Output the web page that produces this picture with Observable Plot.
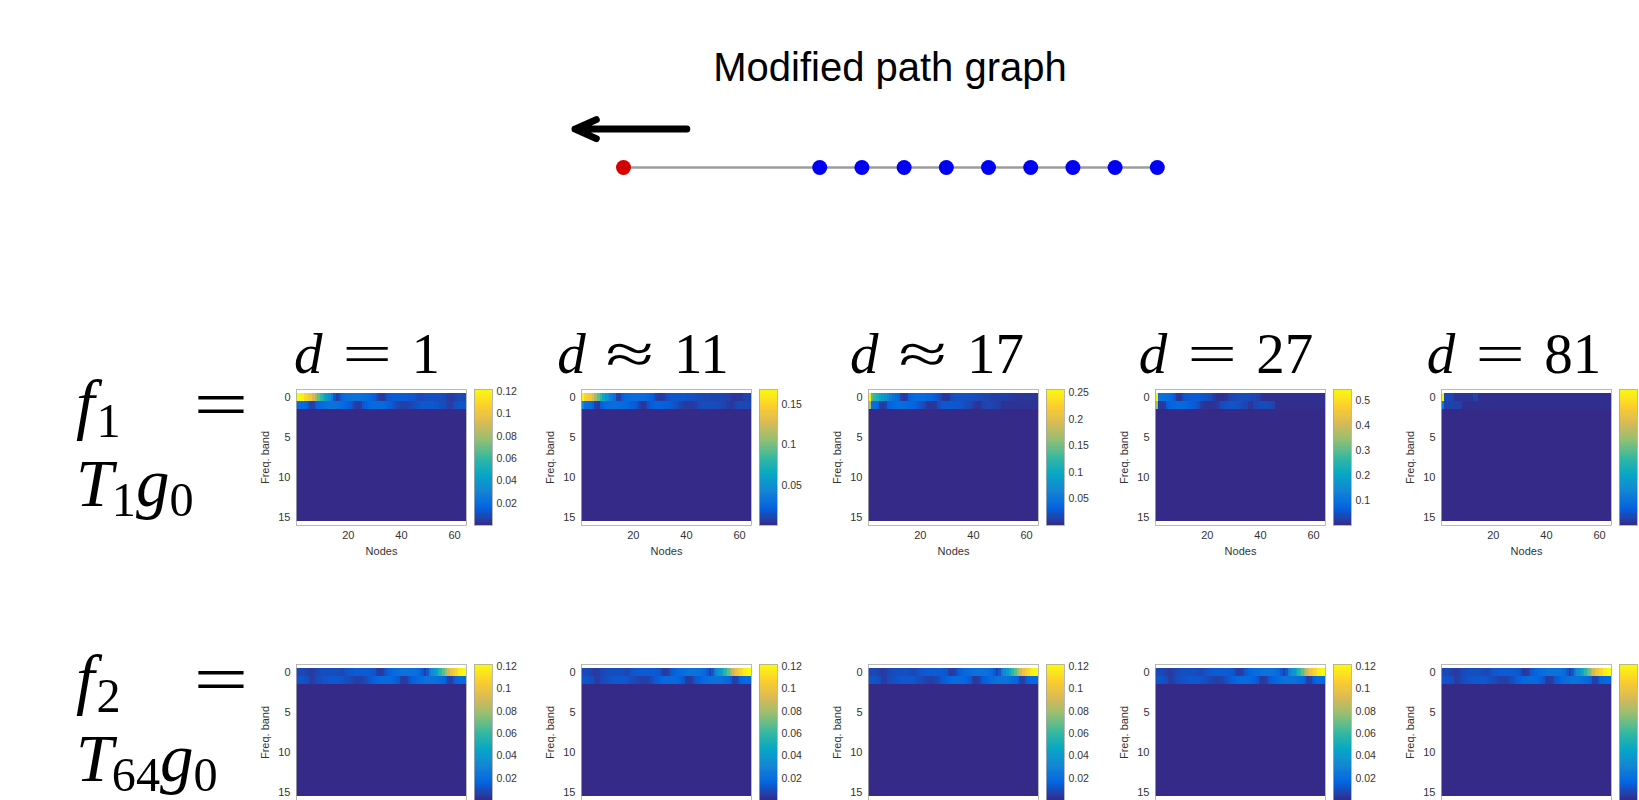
<!DOCTYPE html>
<html>
<head>
<meta charset="utf-8">
<script src="https://cdn.jsdelivr.net/npm/d3@7"></script>
<script src="https://cdn.jsdelivr.net/npm/@observablehq/plot@0.6"></script>
<style>
  html, body { margin: 0; padding: 0; background: #fff; }
  #fig { position: relative; width: 1639px; height: 800px; overflow: hidden; background: #fff; }
  .abs { position: absolute; }
  .tex { font-family: "Liberation Serif", "Times New Roman", serif; color: #000; white-space: nowrap; line-height: 1; }
  .op { display: inline-block; transform: scaleX(1.55); }
  .title { font-family: "Liberation Sans", Arial, sans-serif; font-size: 40px; line-height: 1; color: #000; text-align: center; white-space: nowrap; }
</style>
</head>
<body>
<div id="fig"></div>
<script>
// ---------------- data ----------------
const nodeIds = d3.range(1, 65);     // graph nodes 1..64
const bandIds = d3.range(0, 16);     // frequency bands 0..15
const quietLevel = 0;                // bands 2..15 read as ~0 everywhere

// f1 = T1 g0, d = 1
const f1d1Band0 = [.122,.12,.118, .11,.105,.10,.09, .078,.068,.058, .048,.04,.033,.026, .012,.006, .012,
  .018,.02,.021,.022,.022,.022,.022,.021,.02,.019,.018,.016,.013,.01, .005,.004,.006,
  .011,.012,.013,.013,.013,.013,.013,.013,.012,.012,.011,.01, .008,.008,
  .009,.01,.01,.01,.01,.01,.009,.008,.007, .005,.004,.005, .007,.008,.008,.008];
const f1d1Band1 = [.018,.019,.018,.016,.012, .006,.006,
  .014,.017,.019,.02,.021,.022,.022,.022,.021,.02,.019,.017,.015,.013,.01, .005,.004,.005,
  .012,.015,.017,.018,.019,.019,.019,.018,.017,.015,.013,.011,.009, .007,.006,.006,.006,.007,.008,.009,
  .01,.011,.012,.012,.012,.012,.012,.011,.011,.01,.009,.008, .005,.005, .009,.01,.011,.011,.011];
// d ≈ 11
const f1d11Band0 = [.165, .15,.145,.14,.13, .11,.095,.08, .065,.055,.045, .035,.028, .01,.008,
  .02,.024,.026,.027,.028,.028,.028,.027,.026,.025,.023,.02,.016, .008,.006,.006,.008,
  .014,.015,.016,.016,.016,.016,.016,.015,.015,.014,.014,.013,.012,.012,.011,.011,
  .01,.01,.01,.01,.01,.01,.009,.008,.007, .005,.004,.004,.005, .008,.009,.009];
const f1d11Band1 = [.045, .03,.028,.026,.022, .008,.006,
  .018,.022,.025,.027,.028,.028,.028,.027,.026,.025,.024,.022,.02,.017,.013, .006,.005,.006,
  .015,.018,.02,.021,.021,.021,.02,.019,.018,.016,.014,.012,.01, .007,.006,.006,.006,.007,.008,
  .011,.012,.013,.013,.013,.013,.012,.012,.011,.01,.009, .006,.005,.006, .01,.011,.011,.011,.011,.01];
// d ≈ 17
const f1d17Band0 = [.25, .14,.12,.11, .095,.085,.075,.065,.055, .045,.04,.035, .012,.008,.01,
  .03,.035,.038,.04,.04,.04,.039,.037,.035,.032,.028,.022,.016, .008,.006,.008,
  .018,.02,.022,.022,.022,.022,.022,.021,.02,.019,.018,.017,.016,.015,.014,
  .012,.012,.012,.012,.011,.011,.01,.009,.008, .006,.006,.006,.006,.006,.006,.006,.006,.006];
const f1d17Band1 = [.17, .045,.04,.035, .01,.008,.012,
  .03,.035,.038,.04,.041,.041,.04,.039,.037,.035,.032,.028,.024,.02,.015, .008,.006,.006,.008,
  .018,.022,.025,.026,.027,.027,.026,.025,.024,.022,.02,.018,.015,.012, .006,.005,.006,
  .014,.015,.015,.015,.014,.012,.01,
  .005,.005,.005,.005,.005,.005,.005,.005,.005,.005,.005,.005,.005,.005];
// d = 27
const f1d27Band0 = [.53, .1,.1,.095,.09,.085,.07,.05, .015,.012,
  .04,.05,.055,.058,.06,.06,.058,.055,.05,.045,.04,.035, .015,.01,.008,.008,.012,.02,
  .03,.035,.038,.04,.04,.04,.04,.038,.035,.032,.028,.022,
  .006,.006,.006,.006,.006,.006,.006,.006,.006,.006,.006,.006,
  .006,.006,.006,.006,.006,.006,.006,.006,.006,.006,.006,.006];
const f1d27Band1 = [.35, .02,.015,.02,
  .06,.07,.075,.078,.08,.08,.078,.075,.07,.065,.06,.05,.04, .02,.012,.01,.01,.01,.012,.015,
  .035,.04,.045,.048,.05,.05,.048,.045,.04,.035,.03, .015,.012,
  .03,.035,.038,.04,.04,.038,.035,.03,
  .005,.005,.005,.005,.005,.005,.005,.005,.005,.005,.005,.005,.005,.005,.005,.005,.005,.005,.005];
// d = 81
const f1d81Band0 = [.88, .06,.06,.055,.05, .02,.02,.02,.02,.02,.02,.02, .045,.045,
  .01,.01,.01,.01,.01,.01,.01,.01,.01,.01,.01,.01,.01,.01,.01,.01,.01,.01,.01,.01,.01,.01,.01,.01,.01,
  .01,.01,.01,.01,.01,.01,.01,.01,.01,.01,.01,.01,.01,.01,.01,.01,.01,.01,.01,.01,.01,.01,.01,.01,.01];
const f1d81Band1 = [.18, .04,.045,.045,.045,.045,.04,.04,
  .01,.01,.01,.01,.01,.01,.01,.01,.01,.01,.01,.01,.01,.01,.01,.01,.01,.01,.01,.01,.01,.01,.01,.01,
  .01,.01,.01,.01,.01,.01,.01,.01,.01,.01,.01,.01,.01,.01,.01,.01,.01,.01,.01,.01,.01,.01,.01,.01,
  .01,.01,.01,.01,.01,.01,.01,.01];
// f2 = T64 g0 (same picture for every d)
const f2Band0 = [.008,.008,.008,.007, .005,.004,.005, .007,.008,.009,.01,.01,.01,.01,.01,.009, .008,.008,
  .01,.011,.012,.012,.013,.013,.013,.013,.013,.013,.012,.011, .006,.004,.005,
  .01,.013,.016,.018,.019,.02,.021,.022,.022,.022,.022,.021,.02,.018, .012, .006,.012,
  .026,.033,.04,.048, .058,.068,.078, .09,.10,.105,.11, .118,.12,.122];
const f2Band1 = [.011,.011,.011,.01,.009, .005,.005,
  .008,.009,.01,.011,.011,.012,.012,.012,.012,.012,.011,.01, .009,.008,.007,.006,.006,.006,.007,
  .009,.011,.013,.015,.017,.018,.019,.019,.019,.018,.017,.015,.012, .005,.004,.005,
  .01,.013,.015,.017,.019,.02,.021,.022,.022,.022,.021,.02,.019,.017,.014, .006,.006,
  .012,.016,.018,.019,.018];

const distanceLabels = ["d = 1", "d ≈ 11", "d ≈ 17", "d = 27", "d = 81"];
const f1Band0 = [f1d1Band0, f1d11Band0, f1d17Band0, f1d27Band0, f1d81Band0];
const f1Band1 = [f1d1Band1, f1d11Band1, f1d17Band1, f1d27Band1, f1d81Band1];
const f1ColorMax = [0.122, 0.169, 0.256, 0.545, 0.88];
const f1ColorTicks = [
  [0.02, 0.04, 0.06, 0.08, 0.1, 0.12],
  [0.05, 0.1, 0.15],
  [0.05, 0.1, 0.15, 0.2, 0.25],
  [0.1, 0.2, 0.3, 0.4, 0.5],
  [0.2, 0.4, 0.6, 0.8]
];
const f2ColorMax = 0.122;
const f2ColorTicks = [0.02, 0.04, 0.06, 0.08, 0.1, 0.12];
const xTicks = [20, 40, 60];
const yTicks = [0, 5, 10, 15];

// modified path graph: node positions (graph units) and kinds
const graphNodeX = [0, 4.65, 5.65, 6.65, 7.65, 8.65, 9.65, 10.65, 11.65, 12.65];
const graphNodeKind = ["moved", "path", "path", "path", "path", "path", "path", "path", "path", "path"];
const arrowStartX = 1.5, arrowEndX = -1.15;

const parula = ["#352a87", "#0363e1", "#1485d4", "#06a7c6", "#38b99e", "#92bf73", "#d9ba56", "#fcce2e", "#f9fb0e"];
const parulaInterp = d3.piecewise(d3.interpolateRgb, parula);

// ---------------- layout ----------------
const fig = document.getElementById("fig");
function place(el, left, top) {
  const d = document.createElement("div");
  d.className = "abs";
  d.style.left = left + "px";
  d.style.top = top + "px";
  el.style.maxWidth = "none";
  el.style.display = "block";
  d.style.width = el.getAttribute("width") + "px";
  d.appendChild(el);
  fig.appendChild(d);
  return d;
}
const plotLefts = [296, 581, 868, 1155, 1441];
const rowTops = [389, 664];
const PW = 170, PH = 136;
const ML = 50, MR = 2, MT = 2, MB = 40;
const axisStyle = { fontFamily: "'Liberation Sans', Arial, sans-serif", fontSize: "10.5px", color: "#333", background: "transparent", overflow: "visible" };

function heatmap(b0, b1, hi, left, top) {
  const cells = [];
  for (const band of bandIds) for (const node of nodeIds) {
    const v = band === 0 ? b0[node - 1] : band === 1 ? b1[node - 1] : quietLevel;
    cells.push({ node, band, v });
  }
  const svg = Plot.plot({
    width: PW + ML + MR, height: PH + MT + MB,
    marginLeft: ML, marginRight: MR, marginTop: MT, marginBottom: MB,
    x: { type: "band", domain: nodeIds, padding: 0 },
    y: { type: "band", domain: bandIds, padding: 0 },
    color: { type: "linear", domain: [0, hi], interpolate: parulaInterp, clamp: true },
    style: axisStyle,
    marks: [
      Plot.cell(cells, { x: "node", y: "band", fill: "v", inset: 0, shapeRendering: "crispEdges" }),
      Plot.frame({ stroke: "#a8a8a8", strokeWidth: 0.8 }),
      Plot.axisX({ ticks: xTicks, tickSize: 0, tickPadding: 6, label: "Nodes", labelAnchor: "center", labelOffset: 29, labelArrow: "none", fontSize: 11 }),
      Plot.axisY({ ticks: yTicks, tickSize: 0, tickPadding: 6, label: "Freq. band", labelAnchor: "center", labelOffset: 35, labelArrow: "none", fontSize: 11 })
    ]
  });
  place(svg, left - ML, top - MT);
}

function colorbar(hi, ticks, left, top) {
  const N = 128;
  const steps = d3.range(N).map(i => ({ a: hi * i / N, b: hi * (i + 1) / N, m: hi * (i + 0.5) / N }));
  const svg = Plot.plot({
    width: 18 + 1 + 40, height: PH + MT + 2,
    marginLeft: 1, marginRight: 40, marginTop: MT, marginBottom: 2,
    x: { domain: [0, 1], axis: null },
    y: { domain: [0, hi], label: null },
    color: { type: "linear", domain: [0, hi], interpolate: parulaInterp, clamp: true },
    style: axisStyle,
    marks: [
      Plot.rect(steps, { x1: 0, x2: 1, y1: "a", y2: "b", fill: "m", shapeRendering: "crispEdges" }),
      Plot.frame({ stroke: "#a8a8a8", strokeWidth: 0.8 }),
      Plot.axisY({ anchor: "right", ticks, tickSize: 0, tickPadding: 4, label: null, tickFormat: d => String(d) })
    ]
  });
  place(svg, left - 1, top - MT);
}

for (let i = 0; i < 5; i++) {
  heatmap(f1Band0[i], f1Band1[i], f1ColorMax[i], plotLefts[i], rowTops[0]);
  colorbar(f1ColorMax[i], f1ColorTicks[i], plotLefts[i] + PW + 8, rowTops[0]);
  heatmap(f2Band0, f2Band1, f2ColorMax, plotLefts[i], rowTops[1]);
  colorbar(f2ColorMax, f2ColorTicks, plotLefts[i] + PW + 8, rowTops[1]);
}

// distance labels (TeX-like)
const labelCenters = [367, 643, 937, 1226, 1514];
const labelFs = 57;
distanceLabels.forEach((s, i) => {
  const [v, op, num] = s.split(" ");
  const d = document.createElement("div");
  d.className = "abs tex";
  d.style.fontSize = labelFs + "px";
  d.style.width = "300px";
  d.style.textAlign = "center";
  d.style.left = (labelCenters[i] - 150) + "px";
  d.style.top = (373 - 0.8375 * labelFs) + "px";
  d.innerHTML = `<i>${v}</i><span class="op" style="margin:0 0.5em">${op}</span>${num}`;
  fig.appendChild(d);
});

// row labels: two lines in one block ("f_k =" then "T_n g_0")
function rowLabel(lhsSub, sub, baselineTop) {
  const fs = 67, lh = 73;
  const firstBaseline = (lh - 1.107 * fs) / 2 + 0.891 * fs;
  const b = document.createElement("div");
  b.className = "abs tex";
  b.style.fontSize = fs + "px";
  b.style.lineHeight = lh + "px";
  b.style.left = "76px";
  b.style.top = (baselineTop - firstBaseline) + "px";
  b.innerHTML =
    `<i>f</i><span style="font-size:0.72em;position:relative;top:0.22em;margin-left:0.04em">${lhsSub}</span>` +
    `<span style="position:absolute;left:126px;top:0;line-height:${lh}px"><span class="op" style="transform:scaleX(1.45)">=</span></span>` +
    `<br><i>T</i><span style="font-size:0.72em;position:relative;top:0.2em;margin-left:-0.03em">${sub}</span><i>g</i><span style="font-size:0.72em;position:relative;top:0.2em">0</span>`;
  fig.appendChild(b);
}
rowLabel("1", "1", 427);
rowLabel("2", "64", 702);

// title
const t = document.createElement("div");
t.className = "abs title";
t.style.left = "590px";
t.style.width = "600px";
t.style.top = (80.5 - 0.8465 * 40) + "px";
t.textContent = "Modified path graph";
fig.appendChild(t);

// modified path graph
const graphNodes = graphNodeX.map((x, i) => ({ x, kind: graphNodeKind[i] }));
const graphSvg = Plot.plot({
  width: 660, height: 100, margin: 0,
  x: { domain: [0, 12.65], range: [83, 616.8], axis: null },
  y: { domain: [0, 1], range: [67, 28.6], axis: null },
  style: { background: "transparent", overflow: "visible" },
  marks: [
    Plot.line(graphNodes, { x: "x", y: () => 0, stroke: "#9c9c9c", strokeWidth: 2.4 }),
    Plot.dot(graphNodes, { x: "x", y: () => 0, r: 7.5, fill: d => d.kind === "moved" ? "#d40000" : "#0000f5", stroke: "none" }),
    Plot.arrow([{ x1: arrowStartX, x2: arrowEndX }], { x1: "x1", x2: "x2", y1: () => 1, y2: () => 1, stroke: "#000", strokeWidth: 7, headLength: 5, headAngle: 48 })
  ]
});
place(graphSvg, 540, 100);
</script>
</body>
</html>
